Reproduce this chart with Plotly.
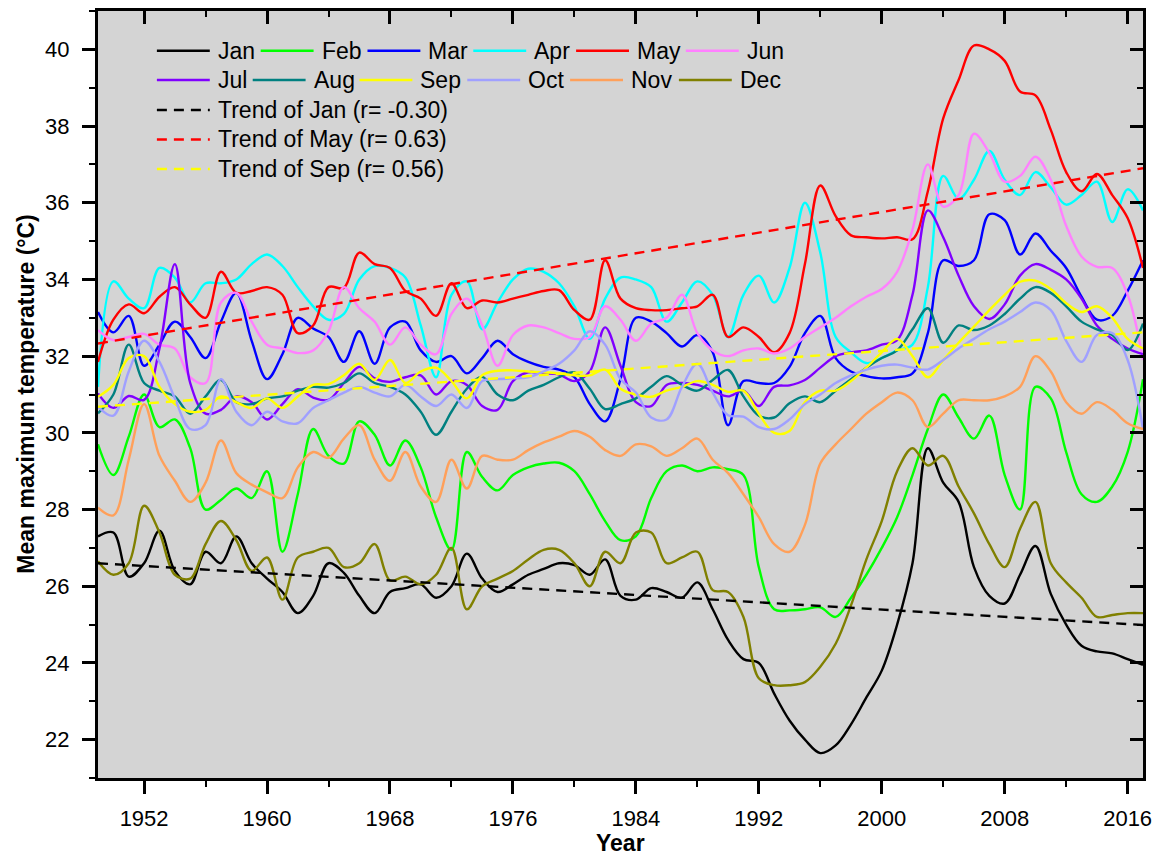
import plotly.graph_objects as go

# ---- data: monthly mean maximum temperature (°C), 1949-2017 ----
years = list(range(1949, 2018))

jan = [27.30, 27.40, 26.25, 26.60, 27.45, 26.40, 26.05, 26.90, 26.60, 27.30,
       26.60, 26.20, 25.85, 25.30, 25.75, 26.60, 26.35, 25.75, 25.30, 25.85,
       25.95, 26.05, 25.70, 26.00, 26.85, 26.20, 25.85, 26.05, 26.30, 26.45,
       26.60, 26.55, 26.30, 26.70, 25.75, 25.65, 25.95, 25.85, 25.70, 26.10,
       25.40, 24.60, 24.10, 24.00, 23.20, 22.50, 22.00, 21.65, 21.85, 22.40,
       23.10, 23.80, 25.00, 26.60, 29.60, 28.70, 28.20, 26.50, 25.75, 25.55,
       26.30, 27.05, 25.80, 25.00, 24.45, 24.30, 24.25, 24.10, 23.95]

feb = [29.70, 28.90, 29.90, 31.00, 30.15, 30.35, 29.60, 28.00, 28.25, 28.55,
       28.30, 29.00, 26.90, 28.40, 30.10, 29.40, 29.20, 30.30, 29.95, 29.15,
       29.80, 29.10, 27.80, 26.95, 29.50, 28.85, 28.50, 28.90, 29.10, 29.20,
       29.22, 29.00, 28.40, 27.70, 27.20, 27.30, 28.30, 29.00, 29.15, 29.00,
       29.10, 29.05, 28.90, 26.50, 25.40, 25.37, 25.40, 25.45, 25.20, 25.70,
       26.30, 27.00, 27.80, 28.90, 30.10, 31.00, 30.40, 29.85, 30.45, 28.90,
       28.00, 31.20, 30.90, 29.50, 28.40, 28.20, 28.60, 29.50, 31.40]

mar = [33.15, 32.62, 33.05, 31.75, 32.30, 32.90, 32.50, 31.95, 32.90, 33.65,
       32.40, 31.40, 32.05, 33.00, 32.72, 32.50, 31.85, 32.65, 31.80, 32.75,
       32.90, 32.15, 31.85, 32.00, 31.55, 31.95, 32.40, 32.05, 31.85, 31.72,
       31.65, 31.45, 30.75, 30.30, 31.40, 33.00, 32.90, 32.60, 32.25, 32.55,
       32.10, 30.20, 31.35, 31.30, 31.30, 31.72, 32.60, 33.05, 31.95, 31.60,
       31.48, 31.42, 31.45, 31.55, 32.60, 34.50, 34.35, 34.50, 35.70, 35.55,
       34.65, 35.20, 34.75, 34.30, 33.55, 32.95, 33.05, 33.70, 34.50]

apr = [31.20, 33.95, 33.50, 33.25, 34.30, 34.05, 33.40, 33.90, 33.90, 34.00,
       34.40, 34.65, 34.35, 33.80, 33.30, 32.95, 33.10, 34.00, 34.35, 34.30,
       34.05, 32.80, 31.45, 33.60, 33.95, 32.70, 33.40, 34.00, 34.28, 34.20,
       33.90, 33.30, 32.45, 33.50, 34.05, 34.00, 33.80, 32.90, 33.40, 33.95,
       33.60, 32.50, 33.60, 34.10, 33.40, 34.30, 36.00, 34.70, 32.50, 32.10,
       31.82, 31.95, 32.15, 32.30, 33.80, 36.70, 36.10, 36.60, 37.35, 36.60,
       36.20, 36.80, 36.40, 35.95, 36.20, 36.55, 35.50, 36.35, 35.80]

may = [31.85, 32.95, 33.35, 33.12, 33.55, 33.80, 33.35, 33.00, 34.20, 33.65,
       33.70, 33.80, 33.60, 32.60, 32.80, 33.80, 33.78, 34.70, 34.40, 34.30,
       33.70, 33.50, 33.05, 33.90, 33.25, 33.45, 33.40, 33.50, 33.60, 33.70,
       33.72, 33.20, 32.95, 34.50, 33.50, 33.25, 33.20, 33.20, 33.25, 33.30,
       33.60, 32.50, 32.75, 32.50, 32.10, 32.60, 34.40, 36.45, 35.65, 35.15,
       35.10, 35.07, 35.10, 35.05, 36.30, 38.20, 39.20, 40.10, 40.00, 39.70,
       38.90, 38.80, 37.90, 36.80, 36.30, 36.75, 36.20, 35.60, 34.30]

jun = [32.68, 32.42, 32.50, 32.58, 32.30, 32.20, 31.45, 31.30, 33.40, 33.65,
       32.90, 32.30, 32.20, 32.08, 32.15, 32.65, 33.80, 33.25, 32.90, 32.30,
       32.75, 32.30, 32.05, 33.10, 33.50, 32.80, 31.75, 32.55, 32.80, 32.75,
       32.60, 32.45, 32.50, 33.30, 32.95, 32.40, 32.85, 33.00, 33.60, 32.60,
       32.15, 32.00, 32.15, 32.20, 32.07, 32.20, 32.50, 32.75, 33.00, 33.30,
       33.55, 33.75, 34.20, 35.30, 37.00, 35.90, 36.20, 37.80, 37.30, 36.55,
       36.70, 37.20, 36.60, 35.40, 34.60, 34.33, 34.30, 33.60, 31.90]

jul = [31.03, 30.65, 30.96, 30.86, 32.20, 34.40, 31.30, 30.50, 30.60, 30.95,
       30.80, 30.35, 30.75, 31.14, 30.92, 30.86, 31.30, 31.72, 31.42, 31.33,
       31.45, 31.50, 31.00, 31.35, 31.25, 30.70, 30.60, 31.35, 31.58, 31.55,
       31.52, 31.35, 31.60, 32.75, 31.75, 30.80, 30.70, 31.25, 31.30, 31.25,
       31.10, 30.95, 31.10, 30.70, 31.20, 31.24, 31.38, 31.70, 32.00, 32.10,
       32.15, 32.30, 32.42, 33.60, 35.80, 35.10, 34.10, 33.30, 32.97, 33.35,
       34.10, 34.40, 34.25, 34.00, 33.50, 32.80, 32.45, 32.20, 32.05]

aug = [30.51, 31.00, 32.30, 31.30, 31.10, 30.95, 30.50, 30.95, 31.38, 30.80,
       30.75, 30.90, 30.95, 31.10, 31.20, 31.18, 31.30, 31.55, 31.30, 31.20,
       31.00, 30.55, 29.95, 30.55, 31.15, 31.46, 31.00, 30.85, 31.10, 31.25,
       31.45, 31.58, 31.15, 30.62, 30.75, 30.90, 31.20, 31.48, 31.25, 31.10,
       31.38, 31.64, 30.95, 30.45, 30.40, 30.77, 30.95, 30.80, 31.10, 31.40,
       31.70, 31.95, 32.15, 32.70, 33.25, 32.35, 32.80, 32.68, 32.80, 33.10,
       33.50, 33.80, 33.65, 33.30, 32.90, 32.70, 32.55, 32.16, 32.85]

sep = [30.94, 31.25, 31.95, 32.00, 31.20, 30.75, 30.55, 30.60, 30.95, 30.80,
       30.65, 30.90, 30.65, 30.95, 31.25, 31.27, 31.50, 31.80, 31.38, 31.90,
       31.30, 31.60, 31.70, 31.35, 30.90, 31.50, 31.62, 31.63, 31.60, 31.58,
       31.55, 31.50, 31.50, 31.65, 31.15, 31.00, 30.94, 31.10, 31.20, 31.35,
       31.25, 31.07, 31.10, 30.50, 30.00, 30.05, 30.80, 31.10, 31.10, 31.35,
       31.70, 32.10, 32.45, 32.00, 31.45, 31.90, 32.35, 32.77, 33.20, 33.60,
       33.94, 33.97, 33.75, 33.38, 33.15, 33.30, 33.00, 32.45, 32.20]

oct_ = [30.68, 30.45, 31.60, 32.40, 31.85, 30.90, 30.10, 30.20, 31.40, 30.55,
        30.20, 30.55, 30.30, 30.25, 30.65, 30.85, 31.05, 31.20, 31.05, 30.95,
        31.25, 30.95, 30.70, 31.00, 30.65, 31.35, 31.40, 31.42, 31.45, 31.60,
        31.80, 32.15, 32.65, 32.30, 31.40, 31.05, 30.40, 30.35, 31.20, 31.80,
        31.05, 30.46, 30.42, 30.15, 30.10, 30.35, 30.75, 31.00, 31.30, 31.50,
        31.65, 31.75, 31.78, 31.70, 31.65, 31.90, 32.20, 32.45, 32.70, 32.90,
        33.15, 33.40, 33.20, 32.40, 31.85, 32.55, 32.60, 31.90, 30.10]

nov = [28.05, 27.85, 29.30, 30.75, 29.40, 28.75, 28.20, 28.70, 29.80, 28.95,
       28.65, 28.45, 28.30, 29.10, 29.50, 29.35, 29.85, 30.20, 29.30, 28.75,
       29.50, 28.60, 28.20, 29.30, 28.55, 29.40, 29.30, 29.30, 29.55, 29.75,
       29.90, 30.05, 29.90, 29.55, 29.40, 29.70, 29.65, 29.40, 29.60, 29.85,
       29.30, 28.95, 28.40, 27.80, 27.10, 26.90, 27.60, 29.20, 29.70, 30.10,
       30.50, 30.80, 31.05, 30.85, 30.15, 30.50, 30.85, 30.85, 30.85, 30.95,
       31.20, 32.00, 31.60, 30.80, 30.50, 30.80, 30.60, 30.25, 30.10]

dec = [26.65, 26.30, 26.60, 28.10, 27.40, 26.30, 26.20, 27.10, 27.70, 27.20,
       26.40, 26.75, 25.65, 26.75, 26.90, 27.00, 26.50, 26.60, 27.10, 26.15,
       26.25, 26.05, 26.30, 27.00, 25.40, 26.00, 26.20, 26.40, 26.70, 26.95,
       26.95, 26.60, 26.00, 26.90, 26.60, 27.40, 27.40, 26.60, 26.75, 26.90,
       25.90, 25.85, 25.20, 23.60, 23.42, 23.42, 23.50, 23.90, 24.50, 25.50,
       26.70, 27.70, 29.00, 29.60, 29.15, 29.40, 28.60, 27.90, 27.10, 26.50,
       27.50, 28.20, 26.60, 26.10, 25.70, 25.20, 25.25, 25.30, 25.30]

# linear trends (values at the first and last year)
trend_years = [1949, 2017]
trend_jan = [26.60, 24.99]
trend_may = [32.33, 36.90]
trend_sep = [30.68, 32.62]

month_names = ["Jan", "Feb", "Mar", "Apr", "May", "Jun",
               "Jul", "Aug", "Sep", "Oct", "Nov", "Dec"]
month_values = [jan, feb, mar, apr, may, jun, jul, aug, sep, oct_, nov, dec]
month_colors = ["#000000", "#00FF00", "#0000FF", "#00FFFF", "#FF0000", "#FF80FF",
                "#8000FF", "#008080", "#FFFF00", "#A0A0FF", "#FFA05A", "#808000"]

trend_labels = ["Trend of Jan (r= -0.30)", "Trend of May (r= 0.63)",
                "Trend of Sep (r= 0.56)"]
trend_values = [trend_jan, trend_may, trend_sep]
trend_colors = ["#000000", "#FF0000", "#FFFF00"]

# ---- figure geometry (pixels) ----
W, H = 1163, 856
L, R, T, B = 98, 18, 11, 78
PW, PH = W - L - R, H - T - B
FONT = "Liberation Sans, Arial, sans-serif"
DASH = "10px,7px"


def px(xp):
    return (xp - L) / PW


def py(yp):
    return (H - B - yp) / PH


fig = go.Figure()

for name, vals, col in zip(month_names, month_values, month_colors):
    fig.add_trace(go.Scatter(
        x=years, y=vals, name=name, mode="lines",
        line=dict(color=col, width=2.4, shape="spline", smoothing=1.0),
        showlegend=False))

for name, vals, col in zip(trend_labels, trend_values, trend_colors):
    fig.add_trace(go.Scatter(
        x=trend_years, y=vals, name=name, mode="lines",
        line=dict(color=col, width=2.4, dash=DASH),
        showlegend=False))

# invisible traces that attach the top and right frame axes
fig.add_trace(go.Scatter(x=years[:1], y=jan[:1], xaxis="x2", yaxis="y",
                         mode="lines", showlegend=False, hoverinfo="skip"))
fig.add_trace(go.Scatter(x=years[:1], y=jan[:1], xaxis="x", yaxis="y2",
                         mode="lines", showlegend=False, hoverinfo="skip"))

# ---- hand-placed legend ----
row_y = [50.7, 80.0, 110.0, 139.5, 169.0]
row1_x = [157, 261, 368, 474, 577, 687]
row2_x = [157, 253, 360, 468, 571, 680]
SAMPLE = 53
shapes, annotations = [], []


def legend_entry(x0, y0, text, color, dash):
    shapes.append(dict(type="line", xref="paper", yref="paper",
                       x0=px(x0), x1=px(x0 + SAMPLE), y0=py(y0), y1=py(y0),
                       line=dict(color=color, width=2.6, dash=dash)))
    annotations.append(dict(xref="paper", yref="paper", x=px(x0 + SAMPLE + 6),
                            y=py(y0), text=text, showarrow=False,
                            xanchor="left", yanchor="middle",
                            font=dict(family=FONT, size=23, color="black")))


for i in range(6):
    legend_entry(row1_x[i], row_y[0], month_names[i], month_colors[i], "solid")
    legend_entry(row2_x[i], row_y[1], month_names[i + 6], month_colors[i + 6], "solid")
for i in range(3):
    legend_entry(157, row_y[2 + i], trend_labels[i], trend_colors[i], DASH)

# axis titles
annotations.append(dict(xref="paper", yref="paper", x=px(25), y=0.5,
                        text="<b>Mean maximum temperature (°C)</b>",
                        textangle=-90, showarrow=False,
                        xanchor="center", yanchor="middle",
                        font=dict(family=FONT, size=23, color="black")))
annotations.append(dict(xref="paper", yref="paper", x=0.5, y=py(843),
                        text="<b>Year</b>", showarrow=False,
                        xanchor="center", yanchor="middle",
                        font=dict(family=FONT, size=23, color="black")))

XR = [1949, 2017]
YR = [21, 41]
axis_common = dict(showline=True, linecolor="black", linewidth=3,
                   showgrid=False, zeroline=False, tickcolor="black",
                   tickwidth=2.5, ticklen=13)

fig.update_layout(
    width=W, height=H,
    margin=dict(l=L, r=R, t=T, b=B, pad=0),
    paper_bgcolor="white", plot_bgcolor="#D4D4D4",
    font=dict(family=FONT, size=22, color="black"),
    showlegend=False,
    xaxis=dict(range=XR, tick0=1952, dtick=8, ticks="outside",
               ticklabelstandoff=6,
               tickfont=dict(family=FONT, size=22, color="black"),
               minor=dict(tick0=1952, dtick=4, ticks="outside", ticklen=6,
                          tickwidth=2, tickcolor="black", showgrid=False),
               **axis_common),
    xaxis2=dict(range=XR, overlaying="x", side="top", tick0=1952, dtick=8,
                ticks="inside", showticklabels=False,
                minor=dict(tick0=1952, dtick=4, ticks="inside", ticklen=6,
                           tickwidth=2, tickcolor="black", showgrid=False),
                **axis_common),
    yaxis=dict(range=YR, tick0=22, dtick=2, ticks="outside",
               ticklabelstandoff=8,
               tickfont=dict(family=FONT, size=22, color="black"),
               minor=dict(tick0=21, dtick=1, ticks="outside", ticklen=6,
                          tickwidth=2, tickcolor="black", showgrid=False),
               **axis_common),
    yaxis2=dict(range=YR, overlaying="y", side="right", tick0=22, dtick=2,
                ticks="inside", showticklabels=False,
                minor=dict(tick0=21, dtick=1, ticks="inside", ticklen=6,
                           tickwidth=2, tickcolor="black", showgrid=False),
                **axis_common),
    shapes=shapes,
    annotations=annotations,
)

fig.write_html("out.html")
